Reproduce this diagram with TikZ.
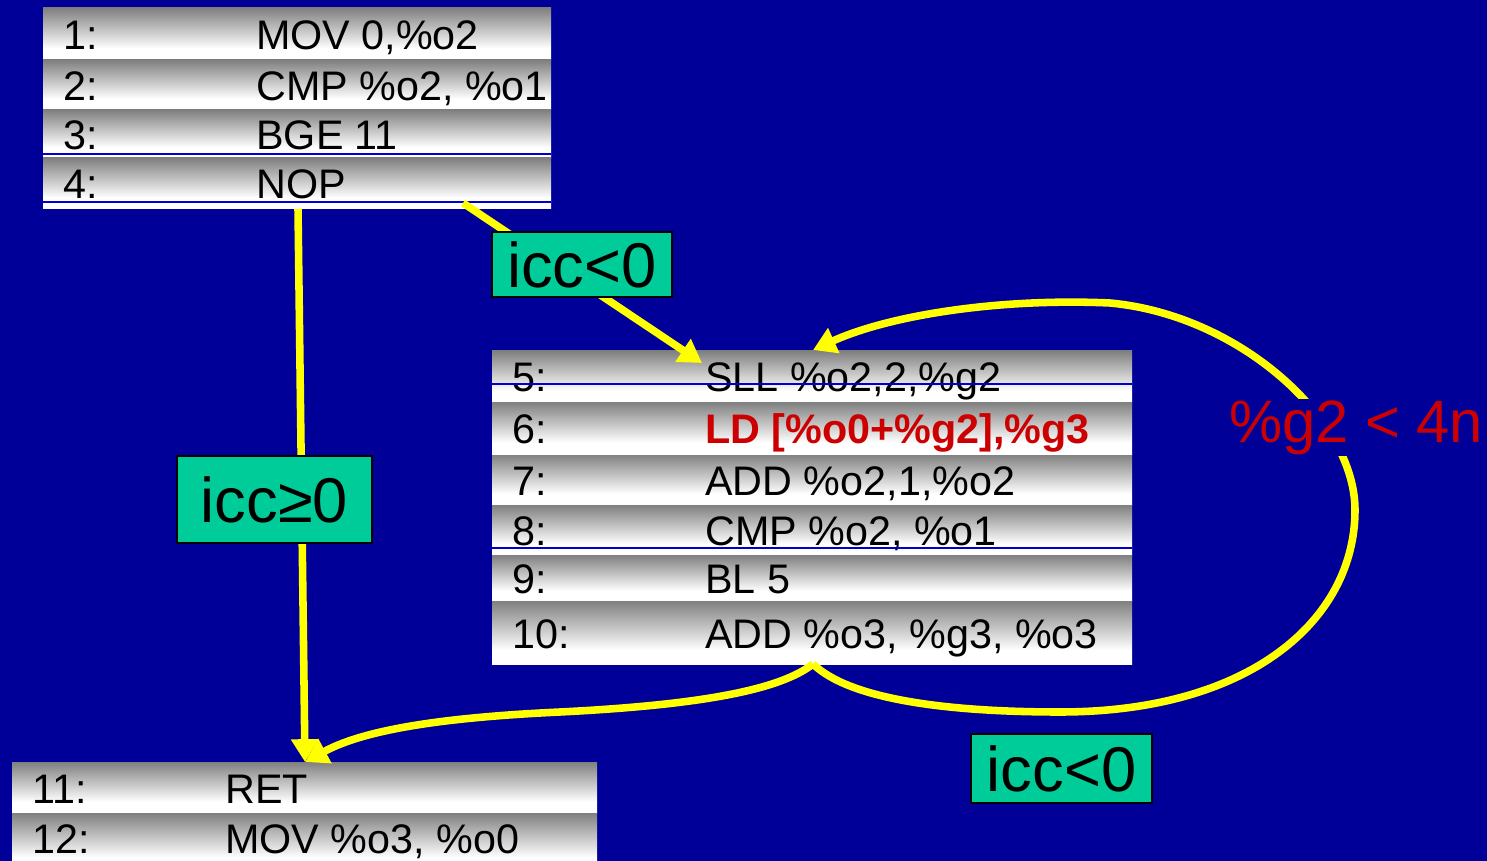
\documentclass[tikz,border=0pt]{standalone}
\usepackage{fontspec}
\setmainfont{Liberation Sans}
\usetikzlibrary{arrows.meta,fit,calc}

\definecolor{bgblue}{RGB}{0,0,153}
\definecolor{rulerblue}{RGB}{0,0,204}
\definecolor{flowyellow}{RGB}{255,255,0}
\definecolor{condgreen}{RGB}{0,204,153}
\definecolor{hotred}{RGB}{204,0,0}

% grey at the top of a row, fading to white towards its bottom
\pgfdeclareverticalshading{rowshade}{100bp}{%
  color(0bp)=(white); color(36bp)=(white);
  color(75bp)=(black!50); color(100bp)=(black!50)}

\begin{document}
\begin{tikzpicture}[x=0.02cm, y=-0.02cm,
  rowbox/.style={inner sep=0pt, outer sep=0pt, shading=rowshade, draw=none},
  codetext/.style={anchor=base west, inner sep=0pt, font=\fontsize{23.5}{28}\selectfont},
  ruler/.style={draw=rulerblue, line width=0.8pt},
  flow/.style={draw=flowyellow, line width=4.3pt,
    -{Triangle[length=13pt,width=15pt]}},
  cond/.style={fill=condgreen, draw=black, line width=1.3pt, inner sep=0pt,
    font=\fontsize{36}{40}\selectfont},
]

\fill[bgblue] (0,0) rectangle (1487,861);
\useasboundingbox (0,0) rectangle (1487,861);

% ---------- block 1 : lines 1-4 ----------
\foreach \n/\ya/\yb/\txt in {1/8/60/{MOV 0,\%o2}, 2/60/110/{CMP \%o2, \%o1},
                             3/110/158/{BGE 11}, 4/158/209/{NOP}} {
  \node[rowbox, fit={(43,\ya) (551,\yb)}] (r\n) {};
  \node[codetext] (n\n) at ($(r\n.west)+(20,15.5)$) {\n:};
  \node[codetext] (i\n) at ($(r\n.west)+(213,15.5)$) {\txt};
}
\draw[ruler] ($(r3.south west)+(0,-4)$) -- ($(r3.south east)+(0,-4)$);
\draw[ruler] ($(r4.south west)+(0,-7)$) -- ($(r4.south east)+(0,-7)$);

% ---------- block 2 : lines 5-10 ----------
\foreach \n/\ya/\yb/\txt in {5/351/402/{SLL \%o2,2,\%g2}, 7/454/505/{ADD \%o2,1,\%o2},
                             8/505/555/{CMP \%o2, \%o1}, 9/555/601/{BL 5},
                             10/601/664/{ADD \%o3, \%g3, \%o3}} {
  \node[rowbox, fit={(492,\ya) (1132,\yb)}] (r\n) {};
  \node[codetext] (n\n) at ($(r\n.west)+(20,15.5)$) {\n:};
  \node[codetext] (i\n) at ($(r\n.west)+(213,15.5)$) {\txt};
}
\node[rowbox, fit={(492,402) (1132,454)}] (r6) {};
\node[codetext] (n6) at ($(r6.west)+(20,15.5)$) {6:};
\node[codetext, text=hotred, font=\fontsize{23.5}{28}\selectfont\bfseries]
  (i6) at ($(r6.west)+(213,15.5)$) {LD [\%o0+\%g2],\%g3};
\draw[ruler] ($(r5.north west)+(0,33)$) -- ($(r5.north east)+(0,33)$);
\draw[ruler] ($(r8.south west)+(0,-7)$) -- ($(r8.south east)+(0,-7)$);

% ---------- block 3 : lines 11-12 ----------
\foreach \n/\ya/\yb/\txt in {11/762/813/{RET}, 12/813/870/{MOV \%o3, \%o0}} {
  \node[rowbox, fit={(12,\ya) (597,\yb)}] (r\n) {};
}
\node[codetext] (n11) at ($(r11.west)+(20,15.5)$) {11:};
\node[codetext] (i11) at ($(r11.west)+(213,15.5)$) {RET};
\node[codetext] (n12) at ($(r12.north west)+(20,40.5)$) {12:};
\node[codetext] (i12) at ($(r12.north west)+(213,40.5)$) {MOV \%o3, \%o0};

% ---------- control flow ----------
\draw[flow] ($(r4.south west)+(420,-6)$) -- ($(r5.north west)+(210,12)$);
\draw[flow] ($(r4.south west)+(255,0)$) -- ($(r11.north west)+(293,0)$);
\draw[flow] ($(r10.south west)+(321,0)$)
  .. controls (780,690) and (700,705) .. (560,712)
  .. controls (430,718) and (360,732) .. ($(r11.north west)+(293,0)$);
\draw[flow] ($(r10.south west)+(321,0)$)
  .. controls (850,700) and (950,712) .. (1060,712)
  .. controls (1250,712) and (1355,620) .. (1355,510)
  .. controls (1355,420) and (1240,315) .. (1110,303)
  .. controls (1000,298) and (890,315) .. ($(r5.north west)+(321,-1)$);

% ---------- branch conditions ----------
\node[cond, minimum width=3.6cm, minimum height=1.3cm] (taken) at (582,264.5) {icc<0};
\node[cond, minimum width=3.9cm, minimum height=1.74cm] (exit) at (274.5,499.5) {icc≥0};
\node[cond, minimum width=3.62cm, minimum height=1.38cm] (loop) at (1061.5,768.5) {icc<0};
\node[fill=bgblue, text=hotred, inner sep=1pt, anchor=base west,
      font=\fontsize{34}{40}\selectfont] (bound) at (1227,442) {\%g2 < 4n};

\end{tikzpicture}
\end{document}
